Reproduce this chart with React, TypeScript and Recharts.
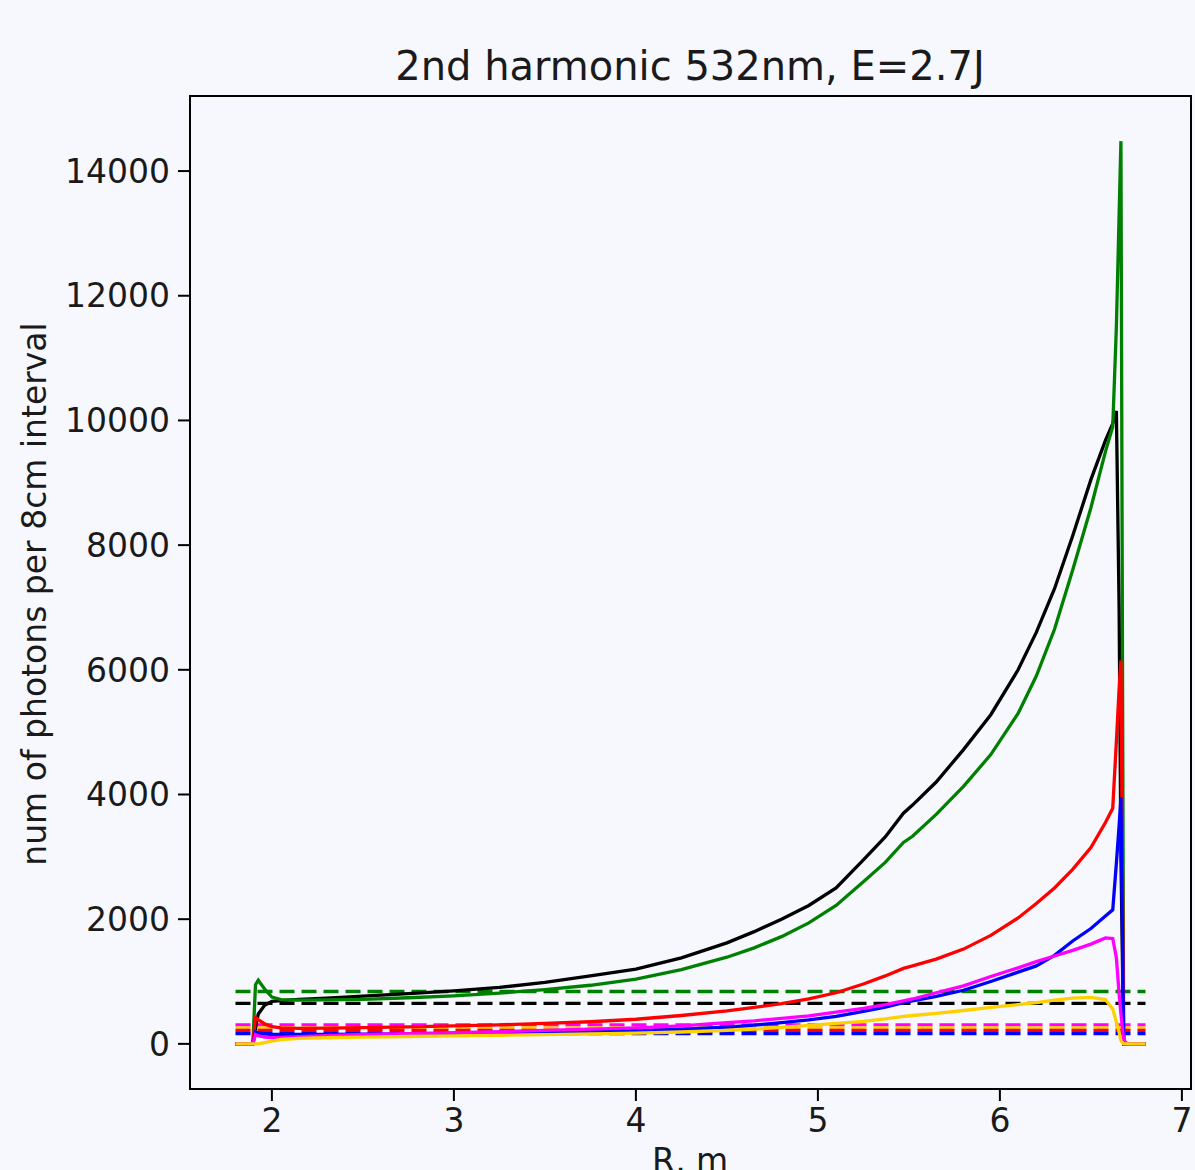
import React from "react";
import { LineChart, Line, XAxis, YAxis } from "recharts";

// R grid, m
const radius = [
  1.8, 1.895, 1.91, 1.925, 1.96, 2.0, 2.05, 2.15, 2.3, 2.5, 2.75, 3.0, 3.25,
  3.5, 3.75, 4.0, 4.25, 4.5, 4.65, 4.8, 4.95, 5.1, 5.25, 5.37, 5.47, 5.52,
  5.65, 5.8, 5.95, 6.1, 6.2, 6.3, 6.4, 6.5, 6.58, 6.62, 6.64, 6.655, 6.665,
  6.68, 6.7, 6.8,
];

const blackCurve = [
  0, 0, 250, 480, 620, 680, 695, 712, 735, 765, 805, 850, 905, 985, 1090, 1200,
  1380, 1620, 1800, 2000, 2220, 2500, 2950, 3320, 3700, 3830, 4200, 4720, 5280,
  6000, 6600, 7300, 8150, 9050, 9680, 9950, 10150, 7000, 3000, 0, 0, 0,
];
const greenCurve = [
  0, 0, 950, 1020, 880, 750, 710, 700, 705, 715, 740, 770, 815, 870, 940, 1040,
  1190, 1390, 1540, 1720, 1940, 2220, 2600, 2910, 3230, 3330, 3680, 4130, 4640,
  5300, 5900, 6650, 7600, 8600, 9500, 9900, 11500, 13300, 14480, 0, 0, 0,
];
const redCurve = [
  0, 0, 420, 390, 320, 275, 255, 250, 252, 260, 272, 290, 305, 330, 355, 395,
  455, 530, 585, 645, 720, 820, 960, 1090, 1210, 1250, 1360, 1520, 1740, 2020,
  2250, 2500, 2800, 3150, 3550, 3780, 4850, 5700, 6150, 0, 0, 0,
];
const blueCurve = [
  0, 0, 190, 175, 160, 150, 150, 150, 152, 155, 160, 168, 175, 185, 195, 210,
  235, 270, 300, 340, 385, 440, 520, 590, 660, 690, 760, 860, 1000, 1150, 1250,
  1420, 1650, 1850, 2050, 2150, 2900, 3500, 3950, 0, 0, 0,
];
const magentaCurve = [
  0, 0, 150, 130, 110, 100, 105, 115, 130, 150, 165, 180, 195, 215, 235, 255,
  290, 340, 370, 410, 450, 510, 570, 630, 690, 720, 820, 930, 1080, 1220, 1320,
  1410, 1500, 1600, 1700, 1690, 1380, 800, 480, 60, 0, 0,
];
const goldCurve = [
  0, 0, 0, 0, 20, 45, 70, 88, 98, 108, 118, 128, 138, 148, 160, 172, 190, 215,
  235, 265, 295, 330, 360, 400, 440, 455, 490, 535, 585, 630, 660, 700, 735,
  745, 710, 560, 350, 190, 50, 0, 0, 0,
];

// horizontal dashed levels
const levelNames = ["green", "black", "magenta", "gold", "red", "blue"];
const levelValues = [840, 650, 305, 255, 215, 165];

const xTicks = [2, 3, 4, 5, 6, 7];
const yTicks = [0, 2000, 4000, 6000, 8000, 10000, 12000, 14000];

const colors: Record<string, string> = {
  black: "#000000",
  green: "#008000",
  red: "#ff0000",
  blue: "#0000ff",
  magenta: "#ff00ff",
  gold: "#ffd000",
};

const curves: [string, number[]][] = [
  ["black", blackCurve],
  ["green", greenCurve],
  ["red", redCurve],
  ["blue", blueCurve],
  ["magenta", magentaCurve],
  ["gold", goldCurve],
];

const data = radius.map((r, i) => {
  const row: Record<string, number> = { r };
  curves.forEach(([name, vals]) => (row[name] = vals[i]));
  levelNames.forEach((name, j) => (row[name + "Level"] = levelValues[j]));
  return row;
});

const font = "DejaVu Sans";
const tickStyle = { fill: "#1a1a1a", fontSize: 33, fontFamily: font };

export default function App() {
  return (
    <div
      style={{
        position: "absolute",
        left: 0,
        top: 0,
        width: 1195,
        height: 1170,
        background: "#f7f8fe",
        overflow: "hidden",
        fontFamily: font,
      }}
    >
      <LineChart
        width={1195}
        height={1170}
        data={data}
        margin={{ top: 96, right: 4, left: 0, bottom: 0 }}
      >
        <XAxis
          dataKey="r"
          type="number"
          domain={[1.55, 7.05]}
          allowDataOverflow
          ticks={xTicks}
          interval={0}
          height={81}
          tickSize={12}
          tickMargin={8}
          axisLine={false}
          tickLine={{ stroke: "#000", strokeWidth: 2 }}
          tick={tickStyle}
        />
        <YAxis
          type="number"
          domain={[-724, 15204]}
          allowDataOverflow
          ticks={yTicks}
          interval={0}
          width={190}
          tickSize={12}
          tickMargin={8}
          axisLine={false}
          tickLine={{ stroke: "#000", strokeWidth: 2 }}
          tick={tickStyle}
        />
        {levelNames.map((name) => (
          <Line
            key={name + "Level"}
            dataKey={name + "Level"}
            stroke={colors[name]}
            strokeWidth={3.3}
            strokeDasharray="15 7"
            dot={false}
            type="linear"
            isAnimationActive={false}
          />
        ))}
        {curves.map(([name]) => (
          <Line
            key={name}
            dataKey={name}
            stroke={colors[name]}
            strokeWidth={3.3}
            dot={false}
            type="linear"
            isAnimationActive={false}
          />
        ))}
      </LineChart>
      <svg
        width={1195}
        height={1170}
        style={{ position: "absolute", left: 0, top: 0, pointerEvents: "none" }}
      >
        <rect
          x={190}
          y={96}
          width={1001}
          height={993}
          fill="none"
          stroke="#000"
          strokeWidth={2}
        />
        <text
          x={690}
          y={80}
          textAnchor="middle"
          fontSize={40}
          fontFamily={font}
          fill="#1a1a1a"
        >
          2nd harmonic 532nm, E=2.7J
        </text>
        <text
          x={690}
          y={1172}
          textAnchor="middle"
          fontSize={33}
          fontFamily={font}
          fill="#1a1a1a"
        >
          R, m
        </text>
        <text
          transform="translate(46,594) rotate(-90)"
          textAnchor="middle"
          fontSize={33}
          fontFamily={font}
          fill="#1a1a1a"
        >
          num of photons per 8cm interval
        </text>
      </svg>
    </div>
  );
}
